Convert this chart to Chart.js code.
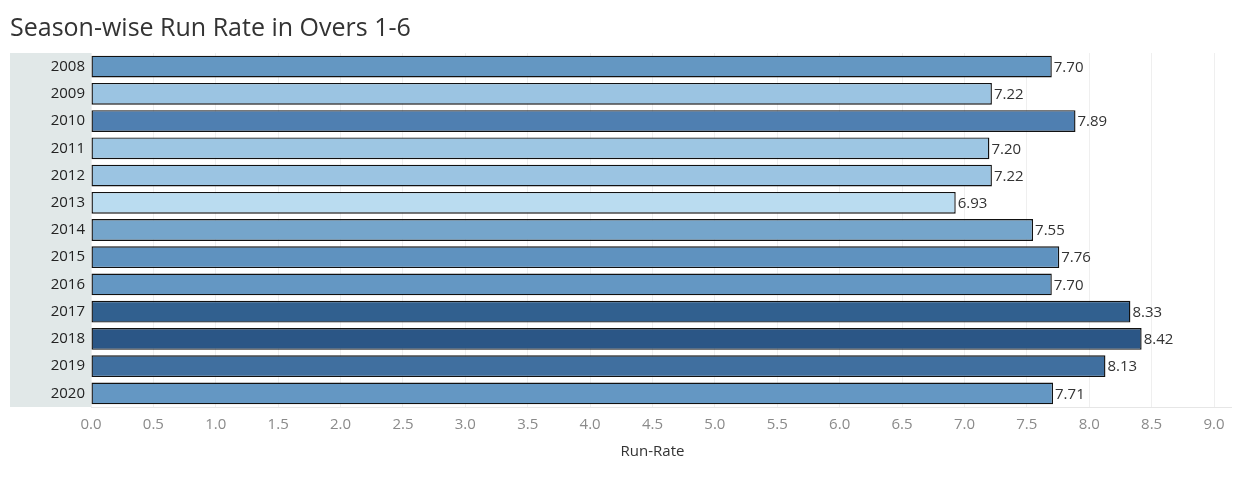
<!DOCTYPE html>
<html>
<head>
<meta charset="utf-8">
<script src="https://cdn.jsdelivr.net/npm/chart.js@4/dist/chart.umd.min.js"></script>
<style>
  html, body { margin: 0; padding: 0; background: #fff; }
  #wrap { width: 1245px; height: 480px; }
</style>
</head>
<body>
<div id="wrap"><canvas id="myChart"></canvas></div>
<script>
const seasons = ['2008', '2009', '2010', '2011', '2012', '2013', '2014', '2015', '2016', '2017', '2018', '2019', '2020'];
const runRates = [7.70, 7.22, 7.89, 7.20, 7.22, 6.93, 7.55, 7.76, 7.70, 8.33, 8.42, 8.13, 7.71];
const barColors = ['#6497c2', '#9bc4e2', '#4f7fb1', '#9dc6e3', '#9bc4e2', '#badcf0', '#75a5cb',
                   '#5f92bf', '#6497c3', '#31608f', '#2b5686', '#406f9f', '#6497c3'];
const xTicks = [0, 0.5, 1, 1.5, 2, 2.5, 3, 3.5, 4, 4.5, 5, 5.5, 6, 6.5, 7, 7.5, 8, 8.5, 9];

const FONT = "'Open Sans', 'Noto Sans', sans-serif";

// grey band behind the season labels, plus the plot bottom line running past 9.0
const labelBand = {
    id: 'labelBand',
    beforeDraw(chart) {
        const ctx = chart.ctx, a = chart.chartArea;
        ctx.save();
        ctx.fillStyle = '#e1e8e8';
        ctx.fillRect(10, a.top, a.left - 10, a.bottom - a.top);
        ctx.strokeStyle = '#e6e6e6';
        ctx.lineWidth = 1;
        ctx.beginPath();
        ctx.moveTo(a.right, a.bottom + 0.5);
        ctx.lineTo(a.right + 18, a.bottom + 0.5);
        ctx.stroke();
        ctx.restore();
    }
};

// value printed at the end of each bar
const valueLabels = {
    id: 'valueLabels',
    afterDatasetsDraw(chart) {
        const ctx = chart.ctx;
        const meta = chart.getDatasetMeta(0);
        ctx.save();
        ctx.font = '15px ' + FONT;
        ctx.fillStyle = '#333';
        ctx.textAlign = 'left';
        ctx.textBaseline = 'middle';
        meta.data.forEach((bar, i) => {
            ctx.fillText(runRates[i].toFixed(2), bar.x + 2, bar.y + 1);
        });
        ctx.restore();
    }
};

new Chart(document.getElementById('myChart'), {
    type: 'bar',
    data: {
        labels: seasons,
        datasets: [{
            data: runRates,
            backgroundColor: barColors,
            borderColor: '#111',
            borderWidth: 1.4,
            borderSkipped: false,
            barPercentage: 0.8,
            categoryPercentage: 1.0
        }]
    },
    options: {
        indexAxis: 'y',
        responsive: true,
        maintainAspectRatio: false,
        animation: false,
        layout: { padding: { left: 10, right: 31, top: 0, bottom: 17 } },
        plugins: {
            legend: { display: false },
            tooltip: { enabled: false },
            title: {
                display: true,
                text: 'Season-wise Run Rate in Overs 1-6',
                align: 'start',
                color: '#333',
                font: { family: FONT, size: 25, weight: 'normal' },
                padding: { top: 14, bottom: 9 }
            }
        },
        scales: {
            x: {
                type: 'linear',
                min: 0,
                max: 9,
                afterBuildTicks(scale) {
                    scale.ticks = xTicks.map(v => ({ value: v }));
                },
                ticks: {
                    color: '#8a8a8a',
                    font: { family: FONT, size: 15 },
                    padding: 9,
                    maxRotation: 0,
                    callback: v => Number(v).toFixed(1)
                },
                grid: { color: '#efefef', drawTicks: false },
                border: { color: '#e6e6e6' },
                title: {
                    display: true,
                    text: 'Run-Rate',
                    color: '#333',
                    font: { family: FONT, size: 15 },
                    padding: { top: 0, bottom: 2 }
                }
            },
            y: {
                afterFit(scale) { scale.width = 81; },
                ticks: {
                    color: '#222',
                    font: { family: FONT, size: 15 },
                    padding: 6
                },
                grid: { display: false, drawTicks: false },
                border: { display: false }
            }
        }
    },
    plugins: [labelBand, valueLabels]
});
</script>
</body>
</html>
